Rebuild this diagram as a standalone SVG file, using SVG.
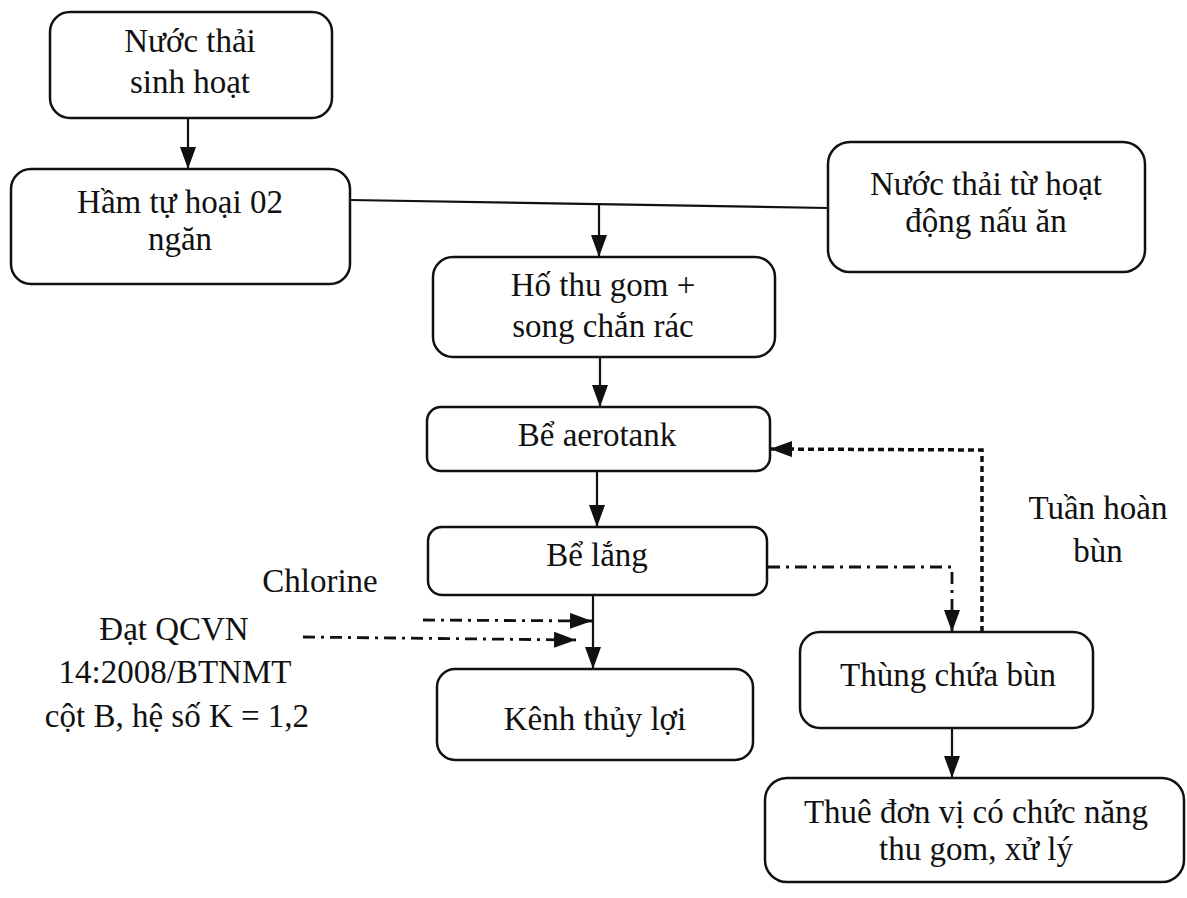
<svg xmlns="http://www.w3.org/2000/svg" width="1187" height="898" viewBox="0 0 1187 898">
<style>
.box{fill:#fff;stroke:#111;stroke-width:2.5}
text{font-family:"Liberation Serif","Times New Roman",serif;font-size:33px;fill:#111;text-anchor:middle}
.ln{fill:none;stroke:#111;stroke-width:2.2}
.dd{fill:none;stroke:#111;stroke-width:2.8;stroke-dasharray:12 6 3 6}
.dt{fill:none;stroke:#111;stroke-width:3.5;stroke-dasharray:6 4}
</style>
<defs>
<marker id="ah" viewBox="0 0 22 16" refX="22" refY="8" markerWidth="22" markerHeight="16" markerUnits="userSpaceOnUse" orient="auto">
<path d="M0,0 L22,8 L0,16 Z" fill="#111"/>
</marker>
</defs>
<rect width="1187" height="898" fill="#fff"/>
<g id="connectors">
<line class="ln" x1="188" y1="118" x2="188" y2="169" marker-end="url(#ah)"/>
<line class="ln" x1="350" y1="200" x2="828" y2="208"/>
<line class="ln" x1="599" y1="204" x2="599" y2="257" marker-end="url(#ah)"/>
<line class="ln" x1="600" y1="357" x2="600" y2="407" marker-end="url(#ah)"/>
<line class="ln" x1="597" y1="471" x2="597" y2="527" marker-end="url(#ah)"/>
<line class="ln" x1="593" y1="595" x2="593" y2="669" marker-end="url(#ah)"/>
<line class="dd" x1="423" y1="620" x2="592" y2="621" marker-end="url(#ah)"/>
<line class="dd" x1="303" y1="637" x2="576" y2="640" marker-end="url(#ah)"/>
<polyline class="dd" points="768,567 952,567 952,632" marker-end="url(#ah)"/>
<polyline class="dt" points="982,632 982,450 770,449" marker-end="url(#ah)"/>
<line class="ln" x1="952" y1="728" x2="952" y2="778" marker-end="url(#ah)"/>
</g>
<g id="n1"><rect class="box" x="50" y="12" width="282" height="106" rx="20"/><text x="190" y="52">Nước thải</text><text x="190" y="93">sinh hoạt</text></g>
<g id="n2"><rect class="box" x="11" y="169" width="339" height="115" rx="20"/><text x="180" y="213">Hầm tự hoại 02</text><text x="180" y="250">ngăn</text></g>
<g id="n3"><rect class="box" x="828" y="142" width="317" height="130" rx="22"/><text x="986" y="195">Nước thải từ hoạt</text><text x="986" y="232">động nấu ăn</text></g>
<g id="n4"><rect class="box" x="433" y="257" width="342" height="100" rx="20"/><text x="603" y="296">Hố thu gom +</text><text x="603" y="337">song chắn rác</text></g>
<g id="n5"><rect class="box" x="427" y="407" width="343" height="64" rx="14"/><text x="597" y="446">Bể aerotank</text></g>
<g id="n6"><rect class="box" x="428" y="527" width="339" height="68" rx="14"/><text x="597" y="566">Bể lắng</text></g>
<g id="n7"><rect class="box" x="437" y="669" width="316" height="91" rx="18"/><text x="595" y="730">Kênh thủy lợi</text></g>
<g id="n8"><rect class="box" x="800" y="632" width="293" height="96" rx="20"/><text x="948" y="686">Thùng chứa bùn</text></g>
<g id="n9"><rect class="box" x="765" y="778" width="419" height="104" rx="22"/><text x="976" y="823">Thuê đơn vị có chức năng</text><text x="976" y="860">thu gom, xử lý</text></g>
<g id="labels">
<text x="320" y="592">Chlorine</text>
<text x="174" y="640">Đạt QCVN</text>
<text x="175" y="683">14:2008/BTNMT</text>
<text x="177" y="727">cột B, hệ số K = 1,2</text>
<text x="1098" y="519">Tuần hoàn</text>
<text x="1098" y="562">bùn</text>
</g>
</svg>
